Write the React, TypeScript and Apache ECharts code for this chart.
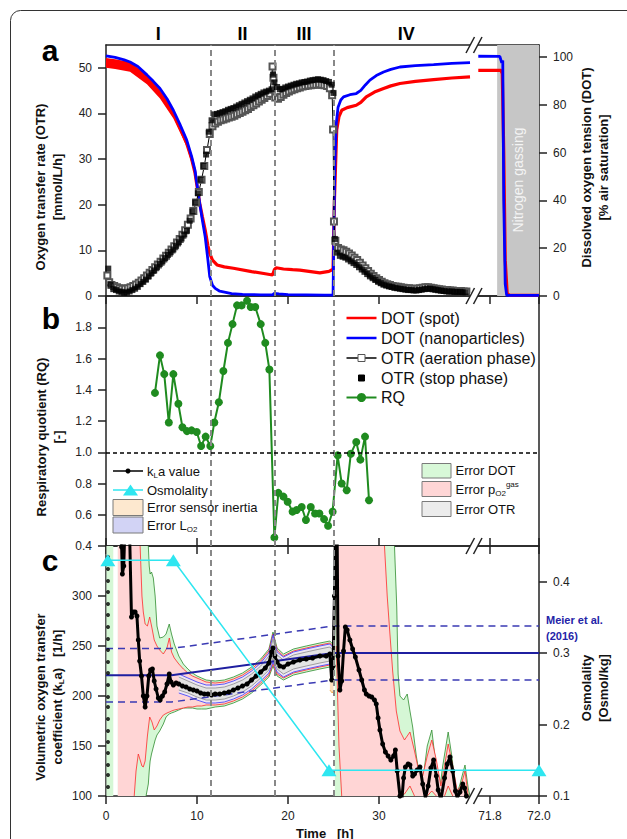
import React, { useEffect, useRef } from "react";
import * as echarts from "echarts";

const FONT = '"Liberation Sans", Arial, Helvetica, sans-serif';

// ---------------- broken time axis ----------------
const SEG2_REF_T = 71.8;
const SEG2_REF_U = 42.2;
const SEG2_SCALE = 26.9;
const toU = (t: number) => (t < 50 ? t : SEG2_REF_U + (t - SEG2_REF_T) * SEG2_SCALE);
const TIME_MAX = 72.0;
const xTickTimes = [0, 10, 20, 30, 71.8, 72.0];
const xTickLabels = ["0", "10", "20", "30", "71.8", "72.0"];
const phaseBoundaries = [11.5, 18.5, 25.0];
const phaseLabelTimes = [5.75, 15, 21.75, 33];
const phaseLabels = ["I", "II", "III", "IV"];
const nitrogenGassing = [71.829, 72.0];

// ---------------- panel a ----------------
// DOT (spot) [t h, % air sat.]
const dotSpotEarly = [
  [0, 97.5], [1, 96.8], [2, 96.0], [2.64, 95.5], [3.5, 93.8], [4.5, 90.5], [5.2, 87.8], [5.93, 84.7],
  [6.7, 80.8], [7.4, 76.3], [8.1, 70.8], [8.87, 63.8], [9.4, 57.5], [9.78, 51.5], [10.3, 38.7],
  [10.6, 33], [10.9, 27.6], [11.2, 21], [11.4, 17.8], [11.7, 15], [12.2, 13], [13, 12.2], [14, 11.6],
  [16, 10.2], [17.5, 9.3], [18.3, 8.8], [18.5, 11], [18.7, 11.8], [19.5, 11.3], [20.5, 11],
  [21.3, 10.8], [22.5, 10.2], [23.5, 9.7], [24.5, 10.3], [24.95, 11.2], [25.1, 40], [25.35, 69.4],
  [25.6, 75], [25.9, 77.7], [26.5, 78.8], [27.5, 79.8], [28.0, 81], [28.6, 83.3], [29.5, 85.3],
  [30.5, 86.8], [31.3, 87.9], [32.3, 88.9], [34, 89.8], [36, 90.5], [38, 91.2], [40, 91.7],
];
// noise envelope of the spot signal during phase I [t, low, high]
const dotSpotNoise = [
  [0, 95.5, 99.6], [1, 95.0, 99.0], [2.64, 93.8, 97.9], [4.5, 88.6, 92.4], [5.93, 82.6, 86.1],
  [7.4, 74.3, 77.7], [8.87, 62.4, 65.2], [9.78, 50.6, 52.8], [10.3, 38.0, 39.5], [11.0, 25.0, 26.2],
];
const dotSpotLate = [
  [71.752, 94.4], [71.845, 94.4], [71.85, 93], [71.856, 60], [71.862, 15], [71.87, 1], [71.88, 0.3], [72.0, 0.3],
];
// DOT (nanoparticles)
const dotNanoEarly = [
  [0, 100.5], [1, 99.8], [2, 98.8], [2.64, 97.9], [3.5, 96], [4.5, 92.5], [5.2, 89.8], [5.93, 86.8],
  [6.7, 82.5], [7.4, 77.7], [8.1, 72], [8.87, 65.2], [9.4, 58.5], [9.78, 52.6], [10.3, 38.7],
  [10.6, 31.5], [10.9, 24.8], [11.2, 15], [11.4, 8.1], [11.7, 4.5], [12.0, 3.2], [12.5, 2.0],
  [13.8, 1.0], [15, 0.7], [17, 0.5], [18.3, 0.5], [18.5, 1.1], [19, 0.9], [20, 0.6], [22, 0.5],
  [24, 0.4], [24.95, 0.4], [25.05, 30], [25.15, 55.6], [25.3, 72], [25.5, 79], [25.8, 82],
  [26.1, 83.3], [26.8, 84.2], [27.5, 84.7], [28.0, 86], [28.5, 88.3], [29, 90.3], [29.7, 92.2],
  [30.5, 93.7], [31.3, 94.8], [32.3, 95.8], [34, 96.4], [36, 96.8], [38, 97.3], [40, 97.6],
];
const dotNanoLate = [
  [71.752, 100.3], [71.84, 100.2], [71.848, 97.5], [71.852, 98.5], [71.856, 40], [71.862, 5], [71.868, 0.3], [72.0, 0.3],
];
// OTR aeration phase [t, mmol/L/h]
const otrAeration = [
  [0.15, 4.5], [0.35, 3.0], [0.6, 2.4], [0.9, 2.2], [1.2, 1.9], [1.5, 1.7], [1.8, 1.6], [2.1, 1.6],
  [2.4, 1.7], [2.7, 1.9], [3.0, 2.2], [3.3, 2.5], [3.6, 2.9], [3.9, 3.4], [4.2, 3.9], [4.5, 4.5],
  [4.8, 5.1], [5.1, 5.7], [5.4, 6.3], [5.7, 6.9], [6.0, 7.5], [6.3, 8.2], [6.6, 8.8], [6.9, 9.5],
  [7.2, 10.2], [7.5, 10.9], [7.8, 11.7], [8.1, 12.5], [8.4, 13.4], [8.7, 14.4], [9.0, 15.6],
  [9.3, 17.0], [9.6, 18.6], [9.9, 20.5], [10.2, 22.8], [10.5, 25.5], [10.8, 28.5], [11.1, 32.0],
  [11.4, 35.5], [11.7, 37.2], [12.0, 37.8], [12.3, 38.2], [12.6, 38.5], [12.9, 38.7], [13.2, 38.9],
  [13.5, 39.1], [13.8, 39.3], [14.1, 39.5], [14.4, 39.8], [14.7, 40.1], [15.0, 40.4], [15.3, 40.7],
  [15.6, 41.0], [15.9, 41.4], [16.2, 41.8], [16.5, 42.2], [16.8, 42.6], [17.1, 43.0], [17.4, 43.4],
  [17.7, 43.8], [18.0, 44.3], [18.3, 50.3], [18.4, 47.8], [18.6, 43.5], [18.9, 43.2], [19.2, 43.6],
  [19.5, 44.1], [19.8, 44.5], [20.1, 44.8], [20.4, 45.1], [20.7, 45.3], [21.0, 45.5], [21.3, 45.7],
  [21.6, 45.9], [21.9, 46.0], [22.2, 46.1], [22.5, 46.2], [22.8, 46.3], [23.1, 46.3], [23.4, 46.4],
  [23.7, 46.3], [24.0, 46.2], [24.3, 46.0], [24.6, 45.5], [24.85, 44.0], [24.95, 36.5], [25.05, 16.3],
  [25.2, 12.1], [25.5, 10.5], [25.8, 10.2], [26.1, 10.0], [26.4, 9.7], [26.7, 9.3], [27.0, 8.9],
  [27.3, 8.4], [27.6, 7.9], [27.9, 7.3], [28.2, 6.7], [28.5, 6.1], [28.8, 5.5], [29.1, 4.9],
  [29.4, 4.4], [29.7, 3.9], [30.0, 3.5], [30.3, 3.1], [30.6, 2.8], [30.9, 2.6], [31.2, 2.4],
  [31.5, 2.2], [31.8, 2.1], [32.1, 2.0], [32.4, 1.9], [32.7, 1.8], [33.0, 1.7], [33.3, 1.7],
  [33.6, 1.6], [33.9, 1.6], [34.2, 1.6], [34.5, 1.7], [34.8, 1.8], [35.1, 1.9], [35.4, 1.9],
  [35.7, 1.8], [36.0, 1.7], [36.3, 1.6], [36.6, 1.5], [36.9, 1.4], [37.2, 1.3], [37.5, 1.3],
  [37.8, 1.2], [38.1, 1.2], [38.4, 1.1], [38.7, 1.1], [39.0, 1.1], [39.3, 1.0], [39.6, 1.0],
];
// OTR stop phase
const otrStop = [
  [0.25, 6.0], [0.5, 2.5], [0.8, 1.5], [1.1, 1.3], [1.4, 1.0], [1.7, 0.9], [2.0, 0.7], [2.3, 0.8],
  [2.6, 1.0], [2.9, 1.3], [3.2, 1.6], [3.5, 2.0], [3.8, 2.6], [4.1, 3.1], [4.4, 3.6], [4.7, 4.3],
  [5.0, 5.0], [5.3, 5.6], [5.6, 6.3], [5.9, 7.0], [6.2, 7.6], [6.5, 8.3], [6.8, 9.0], [7.1, 9.6],
  [7.4, 10.2], [7.7, 11.0], [8.0, 11.8], [8.3, 12.6], [8.6, 13.5], [8.9, 14.3], [9.2, 16.5],
  [9.5, 18.5], [9.8, 20.5], [10.1, 22.5], [10.4, 25.5], [10.7, 28.5], [11.0, 31.0], [11.3, 36.0],
  [11.6, 38.5], [11.9, 39.8], [12.2, 39.9], [12.5, 40.1], [12.8, 40.3], [13.1, 40.5], [13.4, 40.8],
  [13.7, 41.0], [14.0, 41.2], [14.3, 41.5], [14.6, 41.8], [14.9, 42.1], [15.2, 42.4], [15.5, 42.7],
  [15.8, 43.0], [16.1, 43.3], [16.4, 43.7], [16.7, 44.0], [17.0, 44.3], [17.3, 44.6], [17.6, 44.8],
  [17.9, 45.0], [18.2, 45.3], [18.35, 48.5], [18.5, 46.8], [18.8, 45.8], [19.1, 45.3], [19.4, 45.4],
  [19.7, 45.7], [20.0, 45.9], [20.3, 46.1], [20.6, 46.3], [20.9, 46.5], [21.2, 46.6], [21.5, 46.8],
  [21.8, 46.9], [22.1, 47.0], [22.4, 47.2], [22.7, 47.3], [23.0, 47.4], [23.3, 47.5], [23.6, 47.4],
  [23.9, 47.3], [24.2, 47.1], [24.5, 46.9], [24.8, 46.3], [25.0, 44.5], [25.15, 12.5], [25.4, 9.5],
  [25.7, 8.8], [26.0, 8.6], [26.3, 8.4], [26.6, 8.0], [26.9, 7.6], [27.2, 7.2], [27.5, 6.8],
  [27.8, 6.3], [28.1, 5.8], [28.4, 5.3], [28.7, 4.8], [29.0, 4.3], [29.3, 3.9], [29.6, 3.5],
  [29.9, 3.1], [30.2, 2.8], [30.5, 2.5], [30.8, 2.3], [31.1, 2.1], [31.4, 2.0], [31.7, 1.8],
  [32.0, 1.7], [32.3, 1.6], [32.6, 1.5], [32.9, 1.4], [33.2, 1.3], [33.5, 1.3], [33.8, 1.2],
  [34.1, 1.2], [34.4, 1.3], [34.7, 1.4], [35.0, 1.5], [35.3, 1.6], [35.6, 1.6], [35.9, 1.5],
  [36.2, 1.4], [36.5, 1.3], [36.8, 1.2], [37.1, 1.1], [37.4, 1.0], [37.7, 1.0], [38.0, 1.0],
  [38.3, 0.9], [38.6, 0.9], [38.9, 0.9], [39.2, 0.8], [39.5, 0.8],
];

// ---------------- panel b ----------------
const rqTime = [
  5.38, 5.93, 6.4, 6.9, 7.4, 7.95, 8.4, 8.9, 9.4, 9.97, 10.45, 10.95, 11.46, 11.9, 12.4, 12.9, 13.4,
  13.9, 14.4, 14.9, 15.5, 15.9, 16.4, 17.0, 17.5, 17.95, 18.5, 18.94, 19.5, 19.96, 20.5, 20.95, 21.5,
  21.97, 22.5, 22.97, 23.45, 23.96, 24.4, 24.9, 25.45, 25.9, 26.45, 26.9, 27.5, 27.95, 28.46, 28.9,
];
const rqValue = [
  1.38, 1.62, 1.50, 1.19, 1.50, 1.31, 1.16, 1.135, 1.14, 1.13, 1.04, 1.10, 1.04, 1.19, 1.32, 1.52, 1.70,
  1.82, 1.94, 1.94, 1.97, 1.93, 1.93, 1.82, 1.70, 1.53, 0.455, 0.74, 0.716, 0.683, 0.62, 0.63, 0.65,
  0.566, 0.65, 0.608, 0.608, 0.572, 0.53, 0.62, 0.98, 0.80, 0.757, 0.99, 1.066, 0.953, 1.10, 0.693,
];
const rqReference = 1.0;

// ---------------- panel c ----------------
const klaInitialTime = 0.22;
const klaInitialValues = [
  98, 109, 121, 131, 143, 154, 165, 177, 189, 199, 211, 223, 234, 246, 257, 269, 281, 292, 304, 315, 327, 339, 351,
];
const kla = [
  [1.6, 360], [1.72, 349], [1.8, 322], [1.95, 330], [2.05, 360], [2.6, 360], [2.8, 279], [3.0, 284],
  [3.2, 284], [3.4, 280], [3.55, 256], [3.7, 235], [3.9, 220], [4.1, 200], [4.3, 189], [4.5, 200],
  [4.7, 220], [4.9, 226], [5.1, 227], [5.3, 215], [5.5, 207], [5.75, 198], [5.95, 196], [6.2, 200],
  [6.45, 204], [6.7, 212], [6.95, 222], [7.15, 214], [7.4, 211], [7.7, 213], [8.0, 212], [8.4, 210],
  [8.8, 209], [9.2, 207], [9.6, 206], [10.0, 205], [10.4, 203], [10.8, 202], [11.2, 202], [11.6, 201],
  [12.0, 202], [12.5, 202], [13.0, 203], [13.5, 204], [14.0, 206], [14.5, 208], [15.0, 210], [15.5, 212],
  [16.0, 216], [16.5, 220], [17.0, 224], [17.5, 228], [17.9, 233], [18.2, 244], [18.35, 248], [18.55, 240],
  [18.8, 234], [19.1, 230], [19.5, 229], [20.0, 232], [20.6, 234], [21.3, 236], [22.0, 237], [22.7, 238],
  [23.5, 240], [24.2, 240], [24.6, 242], [24.8, 216], [24.95, 230], [25.1, 300], [25.2, 360], [25.4, 360],
  [25.5, 240], [25.7, 206], [25.9, 215], [26.1, 245], [26.3, 269], [26.5, 266], [26.8, 256], [27.1, 247],
  [27.4, 239], [27.8, 226], [28.1, 216], [28.4, 206], [28.6, 202], [28.9, 200], [29.2, 199], [29.5, 196],
  [29.7, 192], [29.9, 178], [30.1, 166], [30.4, 152], [30.7, 144], [31.0, 140], [31.3, 136], [31.6, 140],
  [31.8, 146], [32.0, 125], [32.3, 100], [32.5, 95], [32.7, 118], [32.9, 129], [33.2, 132], [33.4, 131],
  [33.7, 120], [33.9, 122], [34.2, 126], [34.5, 129], [34.8, 112], [35.1, 98], [35.4, 110], [35.7, 128],
  [36.0, 136], [36.3, 120], [36.5, 106], [36.8, 96], [37.2, 118], [37.5, 132], [37.8, 139], [38.1, 125],
  [38.4, 105], [38.6, 98], [38.9, 104], [39.2, 112], [39.4, 108], [39.6, 100], [39.8, 96],
];
const osmTime = [0.2, 7.4, 24.5, 72.0];
const osmValue = [0.43, 0.43, 0.136, 0.136];
const meierTime = [0, 7.2, 25, 72];
const meierMean = [220.7, 220.7, 243, 243];
const meierUpper = [247.5, 247.5, 270, 270];
const meierLower = [194, 194, 216, 216];

// error bands [t, lower, upper] (kLa units)
const bandDotStrip = [[0.05, 50, 400], [0.8, 50, 400]];
const bandDotA = [
  [1.3, 50, 400], [3.1, 50, 400], [4.4, 50, 400], [4.65, 112, 400], [4.75, 125, 330], [4.85, 135, 322],
  [5.0, 142, 324], [5.2, 149, 318], [5.4, 156, 300], [5.6, 161, 270], [5.9, 165, 258], [6.3, 172, 259],
  [6.6, 179, 262], [6.95, 182, 272], [7.2, 183, 262], [7.5, 184, 252], [8.0, 186, 240], [8.5, 188, 232],
  [9.0, 188, 227], [9.5, 188, 223], [10.0, 187, 220], [10.5, 187, 218], [11, 187, 216], [12, 189, 215],
  [13, 190, 216], [14, 193, 219], [15, 197, 223], [16, 203, 229], [17, 211, 237], [17.9, 219, 247],
  [18.35, 230, 264], [18.8, 220, 248], [19.5, 216, 242], [20.6, 221, 247], [22, 224, 250], [23.5, 227, 253],
  [24.6, 229, 255], [24.9, 226, 252],
];
const bandDotB = [
  [25.15, 50, 400], [31.2, 50, 400], [31.7, 50, 360], [31.95, 50, 289], [32.1, 50, 222], [32.3, 50, 200],
  [32.7, 50, 196], [33.1, 50, 202], [33.4, 50, 185], [33.7, 50, 169], [34.1, 50, 140], [34.5, 50, 118],
  [34.9, 50, 122], [35.3, 50, 150], [35.8, 50, 166], [36.2, 50, 135], [36.6, 50, 102], [37.0, 50, 130],
  [37.6, 50, 164], [38.0, 50, 140], [38.5, 50, 100], [38.9, 50, 112], [39.45, 50, 131], [39.8, 50, 108],
  [40.0, 50, 95],
];
const bandGasA = [
  [1.3, 50, 400], [3.1, 50, 400], [3.3, 125, 400], [3.55, 142, 400], [3.75, 136, 360], [3.95, 130, 300],
  [4.1, 129, 284], [4.3, 135, 272], [4.55, 160, 270], [4.8, 179, 279], [5.05, 174, 268], [5.3, 166, 256],
  [5.6, 170, 250], [5.9, 176, 246], [6.3, 181, 242], [6.7, 183, 248], [6.96, 184, 258], [7.2, 185, 244],
  [7.5, 186, 238], [8.0, 187, 232], [8.5, 188, 227], [9.0, 189, 223], [9.5, 189, 220], [10.0, 190, 218],
  [10.5, 190, 216], [11, 191, 214], [12, 191, 213], [13, 192, 214], [14, 195, 217], [15, 199, 221],
  [16, 205, 227], [17, 213, 235], [17.9, 221, 245], [18.35, 232, 262], [18.8, 222, 246], [19.5, 218, 240],
  [20.6, 223, 245], [22, 226, 248], [23.5, 229, 251], [24.6, 231, 253], [24.9, 228, 250],
];
const bandGasB = [
  [25.3, 250, 400], [25.6, 150, 400], [25.9, 60, 400], [30.6, 50, 400], [30.9, 70, 300], [31.2, 85, 262],
  [31.5, 95, 225], [31.9, 95, 185], [32.3, 95, 165], [32.8, 102, 156], [33.4, 110, 164], [33.9, 100, 145],
  [34.3, 90, 128], [34.8, 85, 120], [35.3, 95, 140], [35.8, 105, 156], [36.3, 90, 136], [36.8, 80, 110],
  [37.2, 90, 130], [37.6, 110, 152], [38.1, 95, 130], [38.6, 80, 105], [39.0, 85, 110], [39.45, 100, 125],
  [39.8, 80, 100],
];
const bandLo2 = [
  [8.0, 203, 222], [9, 200, 218], [10, 196, 214], [11, 193, 211], [12, 193, 211], [13, 194, 212],
  [14, 197, 215], [15, 201, 219], [16, 207, 225], [17, 215, 233], [17.9, 223, 243], [18.35, 234, 261],
  [18.8, 224, 244], [19.5, 219, 239], [20.6, 224, 244], [22, 227, 247], [23.5, 230, 250], [24.6, 232, 252],
  [24.9, 229, 249],
];
const bandOtr = [
  [8.0, 206, 219], [9, 203, 215], [10, 199, 211], [11, 196, 208], [12, 196, 208], [13, 197, 209],
  [14, 200, 212], [15, 204, 216], [16, 210, 222], [17, 218, 230], [17.9, 226, 240], [18.35, 238, 257],
  [18.8, 227, 241], [19.5, 222, 236], [20.6, 227, 241], [22, 230, 244], [23.5, 233, 247], [24.6, 235, 249],
  [24.9, 232, 246],
];
const bandInertia = [[24.6, 206, 226], [24.85, 203, 229], [25.0, 205, 232]];

// ---------------- helpers ----------------
const xTickU = xTickTimes.map(toU);
const U_MAX = toU(TIME_MAX);
const pts = (arr: number[][]) => arr.map((p) => [toU(p[0]), p[1]]);

function xAxis(gridIndex: number, position: string, o: any = {}) {
  return {
    type: "value",
    gridIndex,
    position,
    min: 0,
    max: U_MAX,
    splitLine: { show: false },
    axisLine: { show: true, onZero: false, lineStyle: { color: "#222", width: 1.5 } },
    axisTick: {
      show: o.ticks !== false,
      inside: o.inside !== false,
      length: 8,
      customValues: xTickU,
      lineStyle: { color: "#222", width: 1.5 },
    },
    axisLabel: {
      show: !!o.labels,
      customValues: xTickU,
      margin: 14,
      fontSize: 12,
      color: "#222",
      fontFamily: FONT,
      formatter: (v: number) => {
        const i = xTickU.findIndex((u) => Math.abs(u - v) < 1e-6);
        return i >= 0 ? xTickLabels[i] : "";
      },
    },
  };
}

function yAxis(gridIndex: number, position: string, min: number, max: number, interval: number, digits: number, o: any = {}) {
  return {
    type: "value",
    gridIndex,
    position,
    min,
    max,
    interval,
    splitLine: { show: false },
    axisLine: { show: true, onZero: false, lineStyle: { color: "#222", width: 1.5 } },
    axisTick: { show: o.ticks !== false, length: 8, lineStyle: { color: "#222", width: 1.5 } },
    axisLabel: {
      show: o.labels !== false,
      showMaxLabel: false,
      margin: 14,
      fontSize: 12,
      color: "#222",
      fontFamily: FONT,
      formatter: (v: number) => {
        const k = (v - min) / interval;
        if (Math.abs(k - Math.round(k)) > 1e-6) return "";
        return v.toFixed(digits);
      },
    },
  };
}

function bandSeries(rows: number[][], fill: string, edge: string | null, z: number, yMin: number, yMax: number, xi = 4, yi = 4) {
  return {
    type: "custom",
    xAxisIndex: xi,
    yAxisIndex: yi,
    z,
    clip: true,
    silent: true,
    data: [[toU(rows[0][0]), yMin]],
    renderItem: (_p: any, api: any) => {
      const clamp = (v: number) => Math.min(Math.max(v, yMin), yMax);
      const up = rows.map((r) => api.coord([toU(r[0]), clamp(r[2])]));
      const lo = rows.map((r) => api.coord([toU(r[0]), clamp(r[1])]));
      const edgeSegs = (k: number) => {
        const segs: number[][][] = [];
        let cur: number[][] = [];
        for (let i = 0; i < rows.length; i++) {
          const v = rows[i][k];
          const prev = i > 0 ? rows[i - 1][k] : null;
          const bothOut = prev !== null && ((v >= yMax && prev >= yMax) || (v <= yMin && prev <= yMin));
          if (bothOut) {
            if (cur.length > 1) segs.push(cur);
            cur = [];
          }
          cur.push(api.coord([toU(rows[i][0]), clamp(v)]));
        }
        if (cur.length > 1) segs.push(cur);
        return segs;
      };
      const lines = edge
        ? [...edgeSegs(1), ...edgeSegs(2)].map((s) => ({
            type: "polyline",
            shape: { points: s },
            style: { stroke: edge, lineWidth: 0.8, fill: "none" },
          }))
        : [];
      return {
        type: "group",
        children: [
          { type: "polygon", shape: { points: up.concat(lo.slice().reverse()) }, style: { fill, stroke: "none" } },
          ...lines,
        ],
      };
    },
  };
}

function phaseMarkSeries(xi: number, yi: number, extra: any[] = []) {
  return {
    type: "line",
    xAxisIndex: xi,
    yAxisIndex: yi,
    data: [],
    z: 2,
    silent: true,
    markLine: {
      silent: true,
      symbol: "none",
      animation: false,
      label: { show: false },
      lineStyle: { color: "#888", type: [6, 4], width: 2 },
      data: [...phaseBoundaries.map((t) => ({ xAxis: toU(t) })), ...extra],
    },
  };
}

// ---------------- graphic helpers ----------------
const txt = (x: number, y: number, text: string, o: any = {}) => ({
  type: "text",
  x,
  y,
  rotation: o.rotation || 0,
  z: 100,
  silent: true,
  style: {
    text,
    fontFamily: FONT,
    fontSize: o.size || 13,
    fontWeight: o.bold ? "bold" : "normal",
    fill: o.color || "#111",
    textAlign: o.align || "left",
    textVerticalAlign: "middle",
    lineHeight: o.lineHeight,
    rich: o.rich,
  },
});
const gline = (x1: number, y1: number, x2: number, y2: number, stroke: string, w: number) => ({
  type: "line",
  z: 100,
  silent: true,
  shape: { x1, y1, x2, y2 },
  style: { stroke, lineWidth: w },
});
const grect = (x: number, y: number, w: number, h: number, fill: string, stroke = "#7a7a7a") => ({
  type: "rect",
  z: 100,
  silent: true,
  shape: { x, y, width: w, height: h },
  style: { fill, stroke, lineWidth: 1 },
});

const subRich = (size: number, bold = false) => ({
  n: { fontSize: size, fontFamily: FONT, fontWeight: bold ? "bold" : "normal", lineHeight: size + 4, fill: "#111" },
  s: { fontSize: Math.round(size * 0.65), fontFamily: FONT, fontWeight: bold ? "bold" : "normal", lineHeight: 8, verticalAlign: "bottom", fill: "#111" },
  u: { fontSize: Math.round(size * 0.65), fontFamily: FONT, fontWeight: bold ? "bold" : "normal", lineHeight: 8, verticalAlign: "top", fill: "#111" },
});

function buildGraphics() {
  const g: any[] = [];
  // outer rounded frame
  g.push({ type: "rect", z: 0, silent: true, shape: { x: 10.5, y: 10.5, width: 720, height: 900, r: 10 }, style: { fill: "none", stroke: "#333", lineWidth: 1 } });
  // panel letters
  g.push(txt(50, 50, "a", { size: 30, bold: true, align: "center", color: "#000" }));
  g.push(txt(51, 318, "b", { size: 30, bold: true, align: "center", color: "#000" }));
  g.push(txt(50, 560, "c", { size: 30, bold: true, align: "center", color: "#000" }));
  // axis titles
  const ROT = Math.PI / 2;
  g.push(txt(48.5, 187, "Oxygen transfer rate (OTR)\n[mmol/L/h]", { bold: true, align: "center", rotation: ROT, lineHeight: 17 }));
  g.push(txt(595, 167.5, "Dissolved oxygen tension (DOT)\n[% air saturation]", { bold: true, align: "center", rotation: ROT, lineHeight: 17 }));
  g.push(txt(49.5, 437, "Respiratory quotient (RQ)\n[-]", { bold: true, align: "center", rotation: ROT, lineHeight: 17 }));
  g.push(txt(48.5, 697, "{n|Volumetric oxygen transfer}\n{n|coefficient (k}{s|L}{n|a)   [1/h]}", { bold: true, align: "center", rotation: ROT, rich: { ...subRich(13, true), n: { ...subRich(13, true).n, lineHeight: 17 } } }));
  g.push(txt(595, 688, "Osmolality\n[Osmol/kg]", { bold: true, align: "center", rotation: ROT, lineHeight: 17 }));
  g.push(txt(296, 833, "Time   [h]", { bold: true, size: 13 }));
  // nitrogen gassing label
  g.push(txt(518, 180, "Nitrogen gassing", { size: 14, color: "#f4f4f4", align: "center", rotation: ROT }));
  // Meier label
  g.push(txt(546, 620, "Meier et al.", { size: 11, bold: true, color: "#2424a8" }));
  g.push(txt(546, 636, "(2016)", { size: 11, bold: true, color: "#2424a8" }));

  // legend 1 (panel b, top right)
  const l1 = [318, 338, 358, 378, 397.5];
  const lx0 = 346.5, lx1 = 376.5, ltx = 381, lcx = 361.5;
  g.push(gline(lx0, l1[0], lx1, l1[0], "#ff0000", 2.5), txt(ltx, l1[0], "DOT (spot)", { size: 16 }));
  g.push(gline(lx0, l1[1], lx1, l1[1], "#0000ff", 2.5), txt(ltx, l1[1], "DOT (nanoparticles)", { size: 16 }));
  g.push(gline(lx0, l1[2], lx1, l1[2], "#000", 1.5), grect(lcx - 3.5, l1[2] - 3.5, 7, 7, "#fff", "#555"), txt(ltx, l1[2], "OTR (aeration phase)", { size: 16 }));
  g.push(grect(lcx - 3, l1[3] - 3, 6, 6, "#000", "#000"), txt(ltx, l1[3], "OTR (stop phase)", { size: 16 }));
  g.push(gline(lx0, l1[4], lx1, l1[4], "#1f8b1f", 2), { type: "circle", z: 100, silent: true, shape: { cx: lcx, cy: l1[4], r: 4.5 }, style: { fill: "#1f8b1f" } }, txt(ltx, l1[4], "RQ", { size: 16 }));

  // legend 2 (panel b, bottom left)
  const r13 = subRich(13);
  g.push(gline(113, 471, 143, 471, "#000", 1.5), { type: "circle", z: 100, silent: true, shape: { cx: 128, cy: 471, r: 2.5 }, style: { fill: "#000" } });
  g.push(txt(147, 471, "{n|k}{s|L}{n|a value}", { rich: r13 }));
  g.push(gline(113, 490, 143, 490, "#2ee6f0", 1.5), { type: "polygon", z: 100, silent: true, shape: { points: [[123, 495.5], [138, 495.5], [130.5, 484.5]] }, style: { fill: "#2ee6f0" } });
  g.push(txt(147, 490, "Osmolality", { size: 13 }));
  g.push(grect(113, 499.5, 30, 16, "#fde8cf"), txt(147, 507.5, "Error sensor inertia", { size: 13 }));
  g.push(grect(113, 517, 30, 16, "#d2d3f5"), txt(147, 525, "{n|Error L}{s|O2}", { rich: r13 }));

  // legend 3 (panel b, bottom right)
  g.push(grect(422, 463.5, 29, 14.5, "#d8f8d8"), txt(455.5, 470.5, "Error DOT", { size: 13 }));
  g.push(grect(422, 481.5, 29, 15, "#ffd6d6"), txt(455.5, 489, "{n|Error p}{s|O2}{u|gas}", { rich: r13 }));
  g.push(grect(422, 501.5, 29, 15, "#ececec"), txt(455.5, 509, "Error OTR", { size: 13 }));

  // axis break marks
  [45, 296, 546, 796].forEach((y) => {
    g.push({ type: "rect", z: 100, silent: true, shape: { x: 470, y: y - 3, width: 8, height: 6 }, style: { fill: "#fff" } });
    g.push(gline(466, y + 8, 474.5, y - 8, "#222", 1.5));
    g.push(gline(473.5, y + 8, 482, y - 8, "#222", 1.5));
  });
  return g;
}

function buildOption() {
  const series: any[] = [];
  // ---- panel a ----
  series.push({
    type: "line",
    xAxisIndex: 0,
    yAxisIndex: 1,
    data: [],
    z: 1,
    silent: true,
    markArea: {
      silent: true,
      itemStyle: { color: "#c6c6c6" },
      data: [[{ xAxis: toU(nitrogenGassing[0]) }, { xAxis: toU(nitrogenGassing[1]) }]],
    },
  });
  series.push(phaseMarkSeries(0, 0));
  const dotLine = (data: number[][], color: string, w: number) => ({
    type: "line", xAxisIndex: 0, yAxisIndex: 1, data: pts(data), showSymbol: false, symbol: "none",
    lineStyle: { color, width: w }, z: 3, silent: true,
  });
  series.push(bandSeries(dotSpotNoise, "#ff0000", null, 3, 0, 105, 0, 1));
  series.push(dotLine(dotSpotEarly, "#ff0000", 3.2), dotLine(dotSpotLate, "#ff0000", 3.2));
  series.push(dotLine(dotNanoEarly, "#0000ff", 2.8), dotLine(dotNanoLate, "#0000ff", 2.8));
  series.push({
    type: "line", xAxisIndex: 0, yAxisIndex: 0, data: pts(otrAeration), symbol: "emptyRect", symbolSize: 6,
    showAllSymbol: true, lineStyle: { color: "#000", width: 1 }, itemStyle: { color: "#555", borderWidth: 1 }, z: 4, silent: true,
  });
  series.push({
    type: "scatter", xAxisIndex: 0, yAxisIndex: 0, data: pts(otrStop), symbol: "rect", symbolSize: 6,
    itemStyle: { color: "#000" }, z: 5, silent: true,
  });
  // ---- panel b ----
  series.push(
    phaseMarkSeries(2, 2, [{ yAxis: rqReference, lineStyle: { color: "#000", type: [4, 3], width: 1.5 } }])
  );
  series.push({
    type: "line", xAxisIndex: 2, yAxisIndex: 2, data: rqTime.map((t, i) => [toU(t), rqValue[i]]),
    symbol: "circle", symbolSize: 8, showAllSymbol: true, lineStyle: { color: "#1f8b1f", width: 2 },
    itemStyle: { color: "#1f8b1f" }, z: 4, silent: true,
  });
  // ---- panel c ----
  series.push(bandSeries(bandDotStrip, "#d5f7d5", "#2e8b2e", 1, 100, 350));
  series.push(bandSeries(bandDotA, "#d5f7d5", "#2e8b2e", 1, 100, 350));
  series.push(bandSeries(bandDotB, "#d5f7d5", "#2e8b2e", 1, 100, 350));
  series.push(bandSeries(bandGasA, "#ffd5d5", "#ff2a2a", 1.1, 100, 350));
  series.push(bandSeries(bandGasB, "#ffd5d5", "#ff2a2a", 1.1, 100, 350));
  series.push(bandSeries(bandLo2, "#ece6f4", "#3535ff", 1.2, 100, 350));
  series.push(bandSeries(bandOtr, "#e4e4e4", "#8a8a8a", 1.3, 100, 350));
  series.push(bandSeries(bandInertia, "#fde0bf", "#f0a030", 1.4, 100, 350));
  series.push(phaseMarkSeries(4, 4));
  const meier = (vals: number[], dashed: boolean) => ({
    type: "line", xAxisIndex: 4, yAxisIndex: 4, data: meierTime.map((t, i) => [toU(t), vals[i]]), symbol: "none",
    lineStyle: dashed ? { color: "#3a3ab4", width: 1.5, type: [7, 5] } : { color: "#1f1fa0", width: 2 }, z: 3, silent: true,
  });
  series.push(meier(meierMean, false), meier(meierUpper, true), meier(meierLower, true));
  series.push({
    type: "scatter", xAxisIndex: 4, yAxisIndex: 4, data: klaInitialValues.map((v) => [toU(klaInitialTime), v]),
    symbol: "circle", symbolSize: 4, itemStyle: { color: "#000" }, z: 4, silent: true,
  });
  series.push({
    type: "line", xAxisIndex: 4, yAxisIndex: 4, data: pts(kla), symbol: "circle", symbolSize: 5, showAllSymbol: true,
    lineStyle: { color: "#000", width: 3 }, itemStyle: { color: "#000" }, z: 4, silent: true,
  });
  series.push({
    type: "line", xAxisIndex: 4, yAxisIndex: 5, data: osmTime.map((t, i) => [toU(t), osmValue[i]]),
    symbol: "triangle", symbolSize: [15, 12], showAllSymbol: true, lineStyle: { color: "#2ee6f0", width: 1.5 },
    itemStyle: { color: "#2ee6f0" }, z: 6, silent: true,
  });

  return {
    animation: false,
    backgroundColor: "#fff",
    textStyle: { fontFamily: FONT },
    grid: [
      { left: 106, right: 88, top: 45, height: 251 },
      { left: 106, right: 88, top: 296, height: 250 },
      { left: 106, right: 88, top: 546, height: 250 },
    ],
    xAxis: [
      xAxis(0, "bottom", { ticks: false }),
      {
        ...xAxis(0, "top", { ticks: false }),
        axisLabel: {
          show: true,
          customValues: phaseLabelTimes,
          margin: 2,
          fontSize: 18,
          fontWeight: "bold",
          color: "#000",
          fontFamily: FONT,
          formatter: (v: number) => {
            const i = phaseLabelTimes.findIndex((p) => Math.abs(p - v) < 1e-6);
            return i >= 0 ? phaseLabels[i] : "";
          },
        },
      },
      xAxis(1, "bottom", { inside: true }),
      xAxis(1, "top", { inside: true }),
      xAxis(2, "bottom", { inside: false, labels: true }),
      xAxis(2, "top", { inside: true }),
    ],
    yAxis: [
      yAxis(0, "left", 0, 55, 10, 0),
      yAxis(0, "right", 0, 105, 20, 0),
      yAxis(1, "left", 0.4, 2.0, 0.2, 1),
      yAxis(1, "right", 0.4, 2.0, 0.2, 1, { labels: false, ticks: false }),
      yAxis(2, "left", 100, 350, 50, 0),
      yAxis(2, "right", 0.1, 0.45, 0.1, 1),
    ],
    series,
    graphic: buildGraphics(),
  };
}

export default function App() {
  const ref = useRef<HTMLDivElement>(null);
  useEffect(() => {
    if (!ref.current) return;
    const chart = echarts.init(ref.current, undefined, { renderer: "svg" });
    chart.setOption(buildOption() as any);
    return () => chart.dispose();
  }, []);
  return (
    <div
      ref={ref}
      style={{ position: "absolute", left: 0, top: 0, width: 627, height: 839, background: "#fff" }}
    />
  );
}
